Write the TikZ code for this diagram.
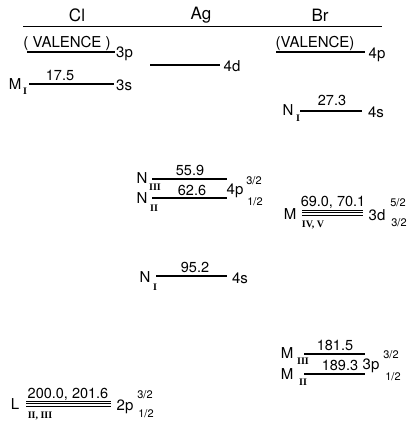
\documentclass[tikz,border=0pt]{standalone}
\usepackage{fontspec}
\setmainfont{TeX Gyre Heros}
\newfontfamily\romfont{Liberation Serif}
\begin{document}
\begin{tikzpicture}[x=1pt,y=-1pt,
  lvl/.style={line width=1.3pt},
  thinlvl/.style={line width=0.8pt},
  hdr/.style={font=\fontsize{17}{17}\selectfont, inner sep=0pt},
  lab/.style={font=\fontsize{15}{15}\selectfont, inner sep=0pt},
  num/.style={font=\fontsize{14.5}{14.5}\selectfont, inner sep=0pt},
  rsub/.style={font=\romfont\bfseries\fontsize{10}{10}\selectfont, inner sep=0pt},
  frac/.style={font=\fontsize{11}{11}\selectfont, inner sep=0pt}]
\useasboundingbox (0,0) rectangle (409,423);

% headers
\node[hdr] (cl) at (77,15) {Cl};
\node[hdr] (ag) at (201,15) {Ag};
\node[hdr] (br) at (320,15) {Br};
\coordinate (hl) at (23,26);
\coordinate (hr) at (382,26);
\draw[line width=0.9pt] (hl) -- (hr);

% ---------- Cl ----------
\node[lab] (clval) at (67,43) {( VALENCE )};
\draw[lvl] (27,52) -- (115,52);
\node[lab, anchor=west] (cl3p) at (116,54) {3p};

\node[lab] (clM) at (15,84) {M};
\node[rsub] (clMsub) at (25,91) {I};
\draw[lvl] (29,84) -- (114,84);
\node[num] (cl175) at (60,75) {17.5};
\node[lab, anchor=west] (cl3s) at (116,85) {3s};

\draw[thinlvl] (26,401.5) -- (111,401.5);
\draw[thinlvl] (26,403.8) -- (111,403.8);
\draw[thinlvl] (26,406.1) -- (111,406.1);
\node[num] (cl200) at (68,394) {200.0, 201.6};
\node[lab] (clL) at (15,404) {L};
\node[rsub] (clLsub) at (40,416) {II, III};
\node[lab] (cl2p) at (125,407) {2p};
\node[frac] (cl2pa) at (145,395) {3/2};
\node[frac] (cl2pb) at (146,414) {1/2};

% ---------- Ag ----------
\draw[lvl] (150,65) -- (220,65);
\node[lab] (ag4d) at (232,66) {4d};

\draw[lvl] (152,179) -- (227,179);
\node[num] (ag559) at (190,170) {55.9};
\node[lab] (agN3) at (142,178) {N};
\node[rsub] (agN3sub) at (155,187) {III};
\draw[lvl] (152,198) -- (227,198);
\node[num] (ag626) at (192,190) {62.6};
\node[lab] (agN2) at (142,198) {N};
\node[rsub] (agN2sub) at (154,208) {II};
\node[lab] (ag4p) at (235,191) {4p};
\node[frac] (ag4pa) at (254,181) {3/2};
\node[frac] (ag4pb) at (255,202) {1/2};

\draw[lvl] (156,276) -- (227,276);
\node[num] (ag952) at (195,267) {95.2};
\node[lab] (agN1) at (145,277) {N};
\node[rsub] (agN1sub) at (155,287) {I};
\node[lab] (ag4s) at (240,278) {4s};

% ---------- Br ----------
\node[lab] (brval) at (315,43) {(VALENCE)};
\draw[lvl] (276,52) -- (365,52);
\node[lab] (br4p) at (377,55) {4p};

\draw[lvl] (300,111) -- (362,111);
\node[num] (br273) at (332,100) {27.3};
\node[lab] (brN1) at (288,110) {N};
\node[rsub] (brN1sub) at (298,118) {I};
\node[lab] (br4s) at (376,112) {4s};

\draw[thinlvl] (302,210.5) -- (363,210.5);
\draw[thinlvl] (302,212.8) -- (363,212.8);
\draw[thinlvl] (302,215.1) -- (363,215.1);
\node[num] (br690) at (333,202) {69.0, 70.1};
\node[lab] (brM45) at (290,214) {M};
\node[rsub] (brM45sub) at (313,225) {IV, V};
\node[lab] (br3d) at (377,215) {3d};
\node[frac] (br3da) at (398,203) {5/2};
\node[frac] (br3db) at (399,223) {3/2};

\draw[lvl] (304,354) -- (365,354);
\node[num] (br1815) at (335,345) {181.5};
\node[lab] (brM3) at (287,353) {M};
\node[rsub] (brM3sub) at (303,361) {III};
\draw[lvl] (304,374) -- (365,374);
\node[num] (br1893) at (340,365) {189.3};
\node[lab] (brM2) at (287,374) {M};
\node[rsub] (brM2sub) at (303,382) {II};
\node[lab] (br3p) at (371,366) {3p};
\node[frac] (br3pa) at (391,355) {3/2};
\node[frac] (br3pb) at (393,377) {1/2};
\end{tikzpicture}
\end{document}
